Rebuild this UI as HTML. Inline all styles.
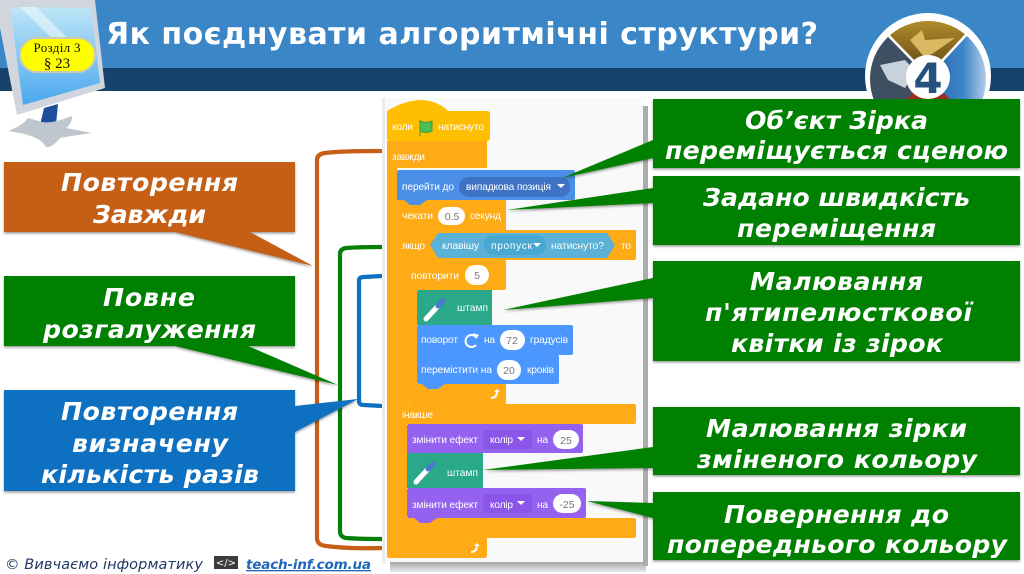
<!DOCTYPE html>
<html><head><meta charset="utf-8"><style>
html,body{margin:0;padding:0;background:#fff;width:1024px;height:574px;overflow:hidden}
svg{display:block}
.s{font-family:"Liberation Sans",sans-serif;font-size:10.2px;fill:#fff}
.g{font-family:"Liberation Sans",sans-serif;font-size:10.5px;fill:#777;text-anchor:middle}
.b{font-family:"DejaVu Sans",sans-serif;font-weight:bold;font-style:italic;font-size:25.2px;fill:#fff}
</style></head><body>
<svg width="1024" height="574" viewBox="0 0 1024 574" xmlns="http://www.w3.org/2000/svg">
<defs>
<filter id="sh" x="-5%" y="-5%" width="110%" height="115%"><feDropShadow dx="0" dy="1.5" stdDeviation="1.2" flood-color="#000" flood-opacity=".4"/></filter>
<filter id="bl" x="-5%" y="-5%" width="110%" height="110%"><feGaussianBlur stdDeviation=".35"/></filter>
<linearGradient id="scr" x1="0" y1="0" x2="0" y2="1"><stop offset="0" stop-color="#bfe6f7"/><stop offset="1" stop-color="#4aa8ee"/></linearGradient>
<linearGradient id="gold" x1="0" y1="0" x2="0" y2="1"><stop offset="0" stop-color="#c09a30"/><stop offset="1" stop-color="#5c4210"/></linearGradient>
<linearGradient id="blu" x1="0" y1="0" x2="1" y2="0"><stop offset="0" stop-color="#1f5fa8"/><stop offset=".55" stop-color="#3f86c8"/><stop offset="1" stop-color="#dfeaf4"/></linearGradient>
<linearGradient id="bsh" x1="0" y1="0" x2="0" y2="1"><stop offset="0" stop-color="#a8a8a8"/><stop offset="1" stop-color="#e8e8e8"/></linearGradient>
<clipPath id="clipc"><circle cx="928" cy="79" r="58"/></clipPath>
</defs>

<!-- header -->
<rect x="0" y="0" width="1024" height="68" fill="#3a86c6"/>
<rect x="0" y="68" width="1024" height="23" fill="#17426c"/>
<text x="106" y="44" font-family="'DejaVu Sans',sans-serif" font-weight="bold" font-size="30" fill="#fff" textLength="712" lengthAdjust="spacing">Як поєднувати алгоритмічні структури?</text>

<!-- monitor -->
<polygon points="44,108 58,104 56,125 40,125" fill="#1e4f9c"/>
<path d="M28,118 L42,122 Q52,124 72,116 Q72,124 66,128 L92,133 Q70,136 60,138 Q52,148 46,147 Q40,135 8,131 Q22,126 28,118Z" fill="#c0c6ce"/>
<polygon points="0,0 95,0 105,88 17,115 0,28" fill="#d0d5de"/>
<polygon points="10,7 91,8 100,83 23,105" fill="url(#scr)"/>
<polygon points="20,7 36,7 75,45 62,48" fill="#e2f3fb" opacity=".7"/>
<rect x="20" y="38" width="75" height="34" rx="17" fill="#ffff00" stroke="#c8ccb0" stroke-width="2"/>
<text x="57" y="52" font-family="'Liberation Serif',serif" font-size="13" text-anchor="middle" fill="#111" textLength="47" lengthAdjust="spacing">Розділ 3</text>
<text x="57" y="68" font-family="'Liberation Serif',serif" font-size="15" text-anchor="middle" fill="#111">§ 23</text>

<!-- circle emblem -->
<circle cx="928" cy="76" r="63" fill="#fff"/>
<g clip-path="url(#clipc)">
<polygon points="928,76 880,30 928,10 970,30" fill="url(#gold)"/>
<polygon points="925,70 885,33 860,60 860,115 905,115" fill="#3d4f60"/>
<polygon points="880,65 905,60 916,72 905,88 888,80" fill="#c8d2dc"/>
<polygon points="928,76 968,33 995,70 990,115 925,115" fill="url(#blu)"/>
<polygon points="910,40 922,30 925,40 955,38 935,52 925,58" fill="#d8b860"/>
<polygon points="903,102 912,94 945,94 952,102" fill="#a02a1c"/>
</g>
<path d="M886,33L928,76L966,35" fill="none" stroke="#fff" stroke-width="2.5"/>
<circle cx="928" cy="77" r="22" fill="#fff"/>
<text x="928" y="93" font-family="'DejaVu Sans',sans-serif" font-weight="bold" font-size="42" text-anchor="middle" fill="#24527f">4</text>

<!-- brackets -->
<g fill="none" stroke-width="4.2">
<path d="M382,151 Q340,151 325,153 Q317,154 317,160 L317,538 Q317,545 326,546 Q350,549 382,548" stroke="#c55f17"/>
<path d="M382,247 Q360,247 346,248 Q340,249 340,254 L340,531 Q340,537 346,538 Q360,539 382,539" stroke="#068006"/>
<path d="M382,276 L364,277 Q359,277 359,281 L359,401 Q359,405 364,405 L382,406" stroke="#0e70c0"/>
</g>

<!-- panel -->
<rect x="382" y="98" width="4" height="466" fill="#ececec"/>
<rect x="390" y="562" width="256" height="10" fill="url(#bsh)"/>
<rect x="643" y="106" width="5" height="460" fill="#acacac"/>
<rect x="385" y="98" width="258" height="464" fill="#f9f9f9"/>

<!-- scratch blocks -->
<g filter="url(#bl)">
<path d="M387,556 V141 H487 V168 H397 V530 Q397,538 405,538 H487 V555 Q487,558 484,558 H390 Q387,558 387,556Z" fill="#ffab19"/>
<path d="M387,139 V111 Q405,100 422,100 Q438,101 448,111 H487 Q490,111 490,114 V138 Q490,141 487,141 H389 Q387,141 387,139Z" fill="#ffbf00"/>
<path d="M397,230 H636 V258 Q636,260 634,260 H407 V396 Q407,404 412,404 H634 Q636,404 636,406 V422 Q636,424 634,424 H407 V518 H634 Q636,518 636,520 V536 Q636,538 634,538 H397Z" fill="#ffab19"/>
<path d="M397,200 H506 V230 H397Z" fill="#ffab19"/>
<path d="M407,260 H506 V288 Q506,290 504,290 H417 V384 H506 V404 H412 Q407,403 407,398Z" fill="#ffab19"/>
<path d="M417,292 Q417,290 419,290 H492 V325 H445 L438,329 H428 L422,325 H417Z" fill="#2aa88a"/>
<path d="M417,327 Q417,325 419,325 H571 Q573,325 573,327 V353 Q573,355 571,355 H417Z" fill="#4c97ff"/>
<path d="M417,355 H557 Q559,355 559,357 V382 Q559,384 557,384 H445 L438,389 H428 L422,384 H419 Q417,384 417,382Z" fill="#4c97ff"/>
<path d="M397,172 Q397,170 399,170 H573 Q575,170 575,172 V198 Q575,200 573,200 H427 L420,205 H410 L404,200 H397Z" fill="#4c8fe8"/>
<path d="M407,426 Q407,424 409,424 H581 Q583,424 583,426 V451 Q583,453 581,453 H437 L430,458 H420 L414,453 H407Z" fill="#9562f0"/>
<path d="M407,453 H483 V488 H437 L430,492 H420 L414,488 H407Z" fill="#2aa88a"/>
<path d="M407,490 Q407,488 409,488 H584 Q586,488 586,490 V516 Q586,518 584,518 H437 L430,523 H420 L414,518 H409 Q407,518 407,516Z" fill="#9562f0"/>

<!-- flag -->
<path d="M420,120 V136 M420,121 Q426,124 432,121 V131 Q426,134 420,131" fill="#4cbf56" stroke="#45993d" stroke-width="1"/>
<rect x="459" y="177" width="111" height="20" rx="10" fill="#3d72c4"/>
<path d="M557,184 h8 l-4,4z" fill="#fff"/>
<rect x="438" y="207" width="27" height="18" rx="9" fill="#fff"/>
<polygon points="430,245 438,233 607,233 615,245 607,258 438,258" fill="#5cb1d6"/>
<rect x="484" y="235" width="62" height="20" rx="10" fill="#47a8d1"/>
<path d="M533,243 h8 l-4,4z" fill="#fff"/>
<rect x="465" y="265" width="24" height="20" rx="10" fill="#fff"/>
<rect x="500" y="330" width="25" height="20" rx="10" fill="#fff"/>
<rect x="497" y="360" width="24" height="20" rx="10" fill="#fff"/>
<rect x="483" y="430" width="49" height="19" rx="3" fill="#8a55e8"/>
<path d="M517,437 h8 l-4,4z" fill="#fff"/>
<rect x="553" y="430" width="26" height="19" rx="9.5" fill="#fff"/>
<rect x="483" y="494" width="49" height="19" rx="3" fill="#8a55e8"/>
<path d="M517,501 h8 l-4,4z" fill="#fff"/>
<rect x="553" y="494" width="28" height="19" rx="9.5" fill="#fff"/>

<!-- pen icons -->
<path d="M426,319 L438,306" stroke="#fff" stroke-width="5" stroke-linecap="round"/>
<path d="M438,306 L443,301" stroke="#4a78d0" stroke-width="5" stroke-linecap="round"/>
<path d="M416,482 L428,469" stroke="#fff" stroke-width="5" stroke-linecap="round"/>
<path d="M428,469 L433,464" stroke="#4a78d0" stroke-width="5" stroke-linecap="round"/>
<!-- turn arrow -->
<path d="M476,337 A6,6 0 1 0 476,345" fill="none" stroke="#fff" stroke-width="2"/>
<path d="M473,333 l6,2 l-3,4z" fill="#fff"/>
<!-- return arrows -->
<path d="M491,398 Q497,398 497,391" fill="none" stroke="#fff" stroke-width="2"/><path d="M494,392 l3,-3 l3,3z" fill="#fff"/>
<path d="M471,552 Q477,552 477,545" fill="none" stroke="#fff" stroke-width="2"/><path d="M474,546 l3,-3 l3,3z" fill="#fff"/>

<text class="s" x="392" y="130" textLength="21">коли</text>
<text class="s" x="438" y="130" textLength="46">натиснуто</text>
<text class="s" x="392" y="160" textLength="33">завжди</text>
<text class="s" x="402" y="190" textLength="52">перейти до</text>
<text class="s" x="466" y="190" textLength="85">випадкова позиція</text>
<text class="s" x="402" y="219" textLength="31">чекати</text>
<text class="g" x="452" y="220">0.5</text>
<text class="s" x="470" y="219" textLength="31">секунд</text>
<text class="s" x="402" y="249" textLength="23">якщо</text>
<text class="s" x="442" y="249" textLength="37">клавішу</text>
<text class="s" x="491" y="249" textLength="41">пропуск</text>
<text class="s" x="551" y="249" textLength="53">натиснуто?</text>
<text class="s" x="621" y="249" textLength="10">то</text>
<text class="s" x="411" y="279" textLength="48">повторити</text>
<text class="g" x="477" y="279">5</text>
<text class="s" x="457" y="311" textLength="31">штамп</text>
<text class="s" x="421" y="343" textLength="37">поворот</text>
<text class="s" x="484" y="343" textLength="11">на</text>
<text class="g" x="512" y="344">72</text>
<text class="s" x="530" y="343" textLength="38">градусів</text>
<text class="s" x="421" y="373" textLength="71">перемістити на</text>
<text class="g" x="509" y="374">20</text>
<text class="s" x="527" y="373" textLength="27">кроків</text>
<text class="s" x="402" y="418" textLength="31">інакше</text>
<text class="s" x="412" y="443" textLength="66">змінити ефект</text>
<text class="s" x="490" y="443" textLength="23">колір</text>
<text class="s" x="537" y="443" textLength="11">на</text>
<text class="g" x="566" y="444">25</text>
<text class="s" x="447" y="476" textLength="31">штамп</text>
<text class="s" x="412" y="508" textLength="66">змінити ефект</text>
<text class="s" x="490" y="508" textLength="23">колір</text>
<text class="s" x="537" y="508" textLength="11">на</text>
<text class="g" x="567" y="508">-25</text>
</g>

<!-- left callouts -->
<g filter="url(#sh)">
<path d="M4,162 H295 V232 H250 L313,266 L175,232 H4Z" fill="#c55f17"/>
<path d="M4,276 H295 V346 H248 L338,385 L175,346 H4Z" fill="#068006"/>
<path d="M4,390 H295 V406 L358,399 L295,432 V491 H4Z" fill="#0e70c0"/>
</g>
<!-- right callouts -->
<g filter="url(#sh)">
<path d="M653,99 H1020 V168 H653 V158 L562,178 L653,140Z" fill="#068006"/>
<path d="M653,176 H1020 V245 H653 V203 L507,210 L653,188Z" fill="#068006"/>
<path d="M653,261 H1020 V361 H653 V298 L503,310 L653,278Z" fill="#068006"/>
<path d="M653,407 H1020 V475 H653 V468 L483,470 L653,447Z" fill="#068006"/>
<path d="M653,492 H1020 V560 H653 V518 L587,501 L653,503Z" fill="#068006"/>
</g>

<g>
<text class="b" x="61" y="191" textLength="177">Повторення</text>
<text class="b" x="93" y="223" textLength="113">Завжди</text>
<text class="b" x="103" y="306" textLength="92">Повне</text>
<text class="b" x="43" y="338" textLength="213">розгалуження</text>
<text class="b" x="61" y="420" textLength="177">Повторення</text>
<text class="b" x="72" y="452" textLength="156">визначену</text>
<text class="b" x="41" y="483" textLength="218">кількість разів</text>

<text class="b" x="745" y="129" textLength="183">Об’єкт Зірка</text>
<text class="b" x="665" y="159" textLength="343">переміщується сценою</text>
<text class="b" x="703" y="206" textLength="267">Задано швидкість</text>
<text class="b" x="737" y="237" textLength="199">переміщення</text>
<text class="b" x="750" y="290" textLength="173">Малювання</text>
<text class="b" x="705" y="321" textLength="267">п'ятипелюсткової</text>
<text class="b" x="731" y="352" textLength="212">квітки із зірок</text>
<text class="b" x="706" y="437" textLength="261">Малювання зірки</text>
<text class="b" x="697" y="468" textLength="280">зміненого кольору</text>
<text class="b" x="724" y="523" textLength="225">Повернення до</text>
<text class="b" x="667" y="553" textLength="340">попереднього кольору</text>
</g>

<!-- footer -->
<text x="5" y="569" font-family="'DejaVu Sans',sans-serif" font-style="italic" font-size="14.5" fill="#1f3864" textLength="198">© Вивчаємо інформатику</text>
<rect x="214" y="556" width="24" height="13" fill="#3c3c3c"/>
<text x="226" y="566" font-family="'DejaVu Sans',sans-serif" font-size="10" fill="#fff" text-anchor="middle">&lt;/&gt;</text>
<text x="246" y="569" font-family="'DejaVu Sans',sans-serif" font-style="italic" font-weight="bold" font-size="13.5" fill="#2166b8" text-decoration="underline" textLength="125">teach-inf.com.ua</text>
</svg>
</body></html>
